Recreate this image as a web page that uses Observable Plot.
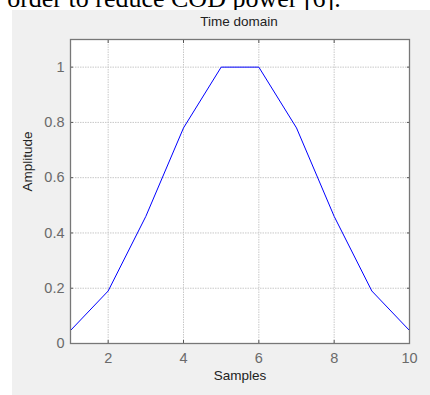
<!DOCTYPE html>
<html><head><meta charset="utf-8">
<script src="https://cdn.jsdelivr.net/npm/d3@7"></script>
<script src="https://cdn.jsdelivr.net/npm/@observablehq/plot@0.6"></script>
<style>
html,body{margin:0;padding:0;background:#fff;width:430px;height:395px;overflow:hidden;position:relative;font-family:"Liberation Sans",Arial,sans-serif;}
#bg{position:absolute;left:12px;top:10px;width:418px;height:385px;background:#f0f0f0;}
#top{position:absolute;left:-8px;top:-14px;line-height:1;font-family:"Liberation Serif","Times New Roman",serif;font-size:26px;color:#000;white-space:nowrap;}
#title{position:absolute;left:0;width:478px;top:14px;text-align:center;font-size:13.5px;color:#222;}
#chart{position:absolute;left:0;top:0;}
</style></head>
<body>
<div id="top">r order to reduce COD power [6].</div>
<div id="bg"></div>
<div id="title">Time domain</div>
<div id="chart"></div>
<script>
const samples = [1, 2, 3, 4, 5, 6, 7, 8, 9, 10];
const amplitude = [0.047, 0.19, 0.46, 0.78, 1, 1, 0.78, 0.46, 0.19, 0.047];
const xTicks = [2, 4, 6, 8, 10];
const yTicks = [0, 0.2, 0.4, 0.6, 0.8, 1];
const yTickLabels = ["0", "0.2", "0.4", "0.6", "0.8", "1"];
const data = samples.map((s, i) => ({s, a: amplitude[i]}));

const chart = Plot.plot({
  width: 430, height: 395,
  marginLeft: 70, marginRight: 21, marginTop: 39, marginBottom: 52,
  style: {background: "transparent", fontFamily: "Liberation Sans, Arial, sans-serif", fontSize: "13px"},
  x: {domain: [1, 10]},
  y: {domain: [0, 1.1]},
  marks: [
    Plot.frame({fill: "#fff", stroke: null}),
    Plot.gridX(xTicks, {stroke: "#c8c8c8", strokeOpacity: 1, strokeDasharray: "1.5,1"}),
    Plot.gridY(yTicks, {stroke: "#c8c8c8", strokeOpacity: 1, strokeDasharray: "1.5,1"}),
    Plot.line(data, {x: "s", y: "a", stroke: "#0000ff", strokeWidth: 1}),
    Plot.axisX(xTicks, {anchor: "bottom", tickSize: 0, tickPadding: 9, fill: "#6a6a6a", label: null, fontSize: 14.5}),
    Plot.axisY(yTicks, {anchor: "left", tickSize: 0, tickPadding: 6, fill: "#6a6a6a", label: null, fontSize: 14.5, tickFormat: (d, i) => yTickLabels[i]}),
    Plot.axisX(xTicks, {anchor: "bottom", tickSize: -3, text: null, label: null, stroke: "#555"}),
    Plot.axisX(xTicks, {anchor: "top", tickSize: -3, text: null, label: null, stroke: "#555"}),
    Plot.axisY(yTicks, {anchor: "left", tickSize: -3, text: null, label: null, stroke: "#555"}),
    Plot.axisY(yTicks, {anchor: "right", tickSize: -3, text: null, label: null, stroke: "#555"}),
    Plot.frame({stroke: "#777", strokeWidth: 1.3}),
    Plot.text(["Samples"], {frameAnchor: "bottom", dy: 36, fill: "#222", fontSize: 13.5}),
    Plot.text(["Amplitude"], {frameAnchor: "left", dx: -43, rotate: -90, fill: "#222", fontSize: 13.5})
  ]
});
document.getElementById("chart").appendChild(chart);
</script>
</body></html>
